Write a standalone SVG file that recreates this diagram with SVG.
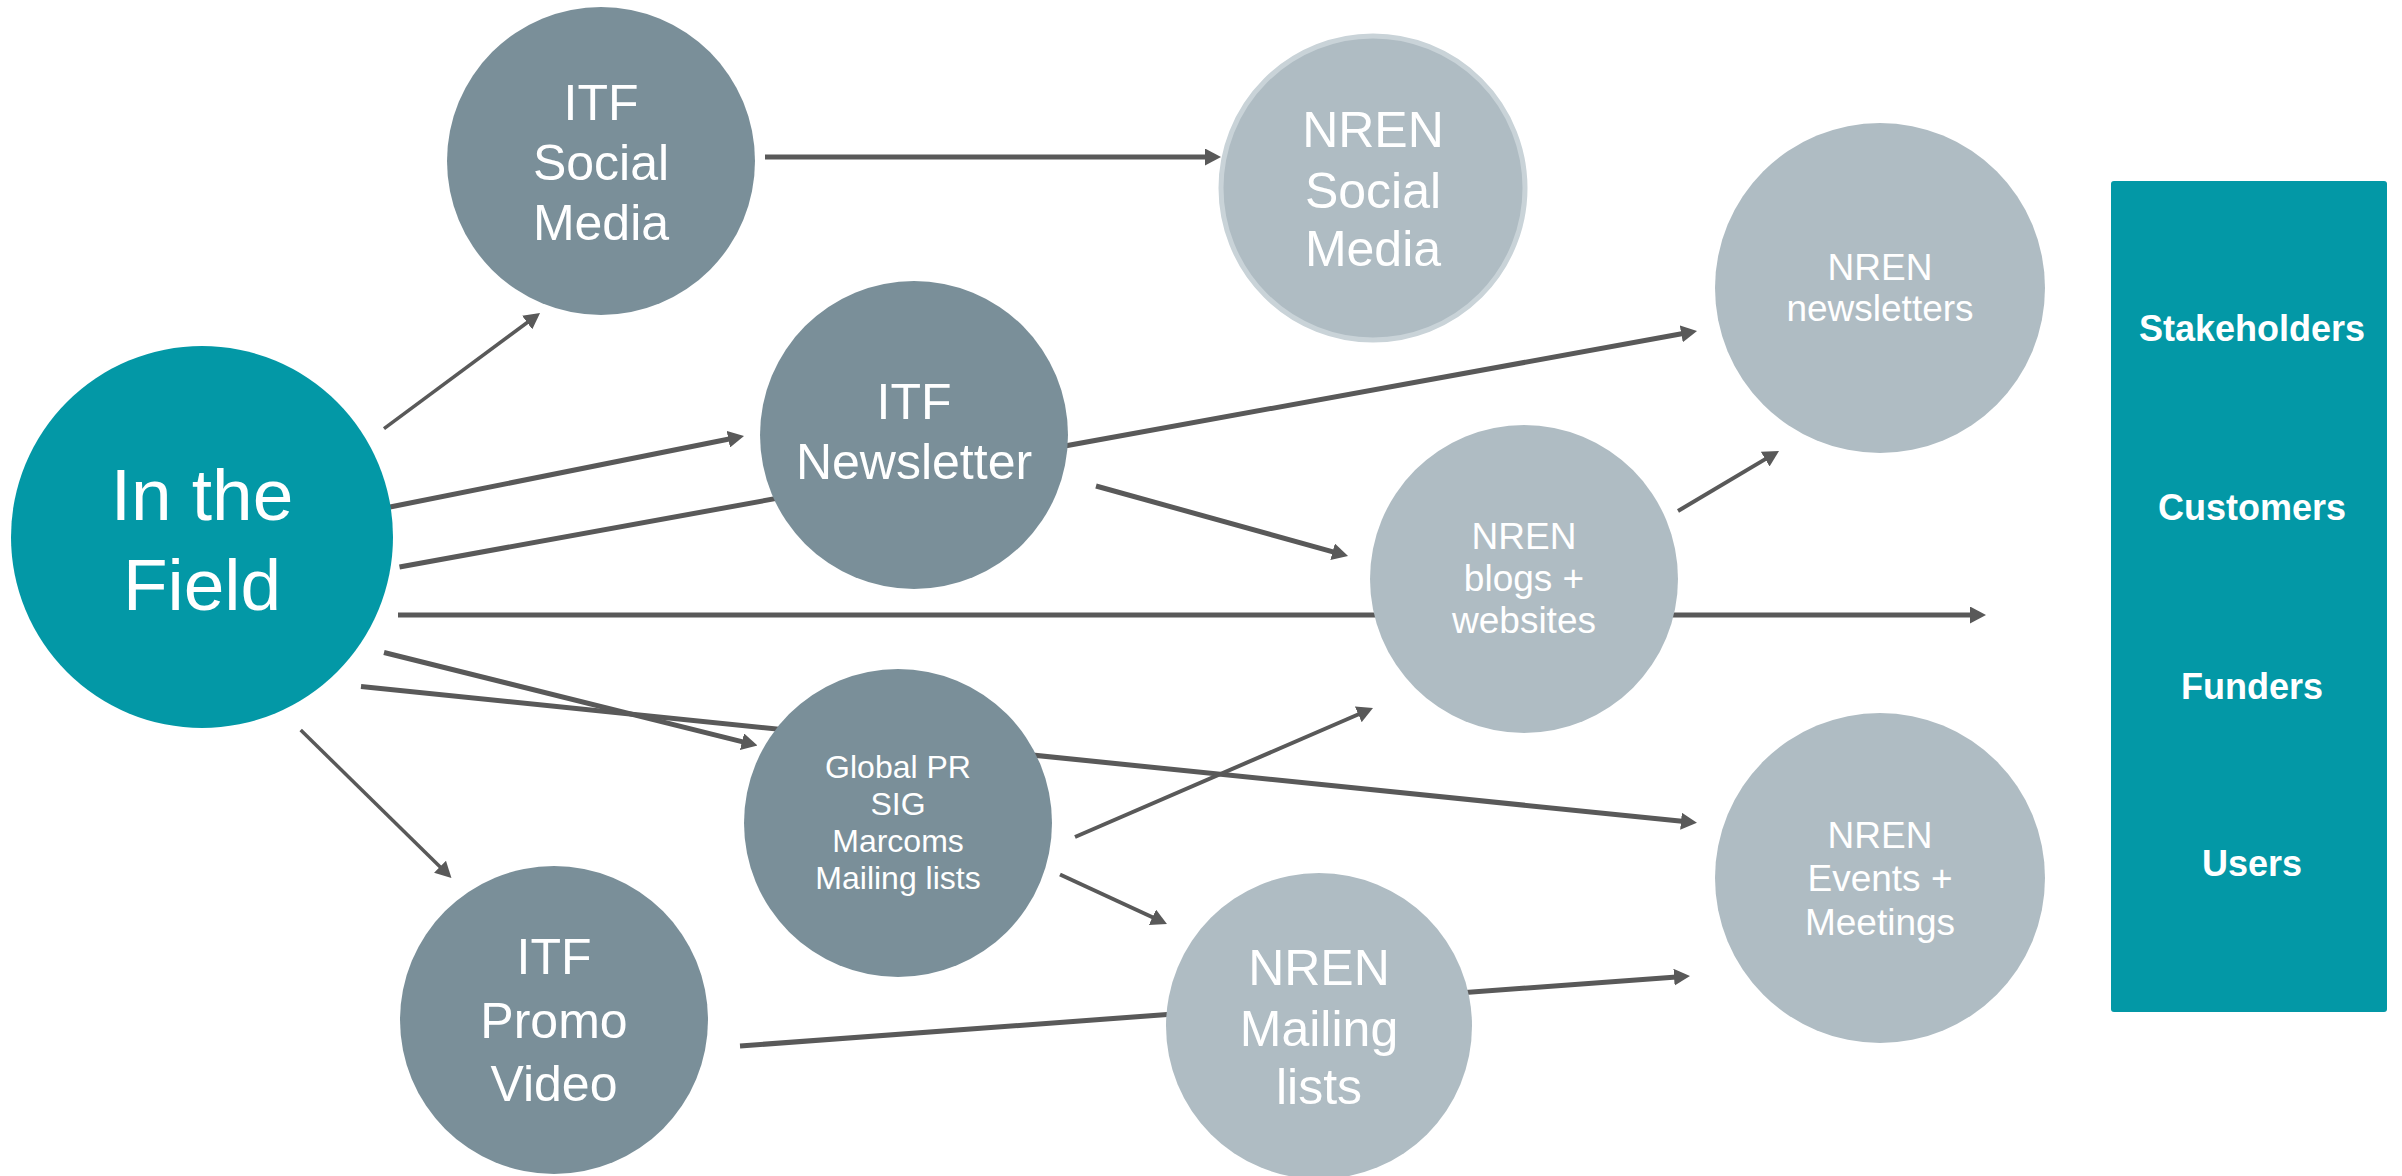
<svg xmlns="http://www.w3.org/2000/svg" width="2402" height="1176" viewBox="0 0 2402 1176">
<style>
.itf{fill:#7a8f99}
.nren{fill:#afbcc3}
.teal{fill:#0398a6}
text{font-family:"Liberation Sans",Arial,sans-serif;fill:#ffffff;text-anchor:middle}
.big{font-size:73px}
.l{font-size:50px}
.m{font-size:37px}
.s{font-size:32px}
.b{font-size:36px;font-weight:bold}
.c{stroke:#595959;stroke-width:5;fill:none}
.t{stroke-width:3.5}
.n{stroke-width:4}
</style>
<defs>
<marker id="ah" markerUnits="userSpaceOnUse" markerWidth="16" markerHeight="17" refX="6" refY="8.5" orient="auto" viewBox="0 0 16 17">
<path d="M0,0 L16,8.5 L0,17 z" fill="#595959"/>
</marker>
</defs>
<g id="connectors">
<line class="c t" x1="384" y1="428.6" x2="532" y2="319" marker-end="url(#ah)"/>
<line class="c" x1="390" y1="507" x2="734.2" y2="438" marker-end="url(#ah)"/>
<line class="c" x1="399.5" y1="567" x2="1687.2" y2="332.8" marker-end="url(#ah)"/>
<line class="c" x1="1096" y1="486" x2="1338.4" y2="553.3" marker-end="url(#ah)"/>
<line class="c" x1="765" y1="157" x2="1211" y2="157" marker-end="url(#ah)"/>
<line class="c n" x1="1678" y1="511" x2="1770.4" y2="456.1" marker-end="url(#ah)"/>
<line class="c" x1="398" y1="615" x2="1976" y2="615" marker-end="url(#ah)"/>
<line class="c" x1="384" y1="652.5" x2="747.8" y2="743.1" marker-end="url(#ah)"/>
<line class="c" x1="361" y1="686.6" x2="1687" y2="821.8" marker-end="url(#ah)"/>
<line class="c t" x1="300.7" y1="730" x2="444.3" y2="871" marker-end="url(#ah)"/>
<line class="c n" x1="1075" y1="837" x2="1363.8" y2="712" marker-end="url(#ah)"/>
<line class="c n" x1="1060" y1="874.5" x2="1157.9" y2="919.8" marker-end="url(#ah)"/>
<line class="c" x1="740" y1="1046" x2="1680" y2="976.7" marker-end="url(#ah)"/>
</g>
<g id="in-the-field">
<circle class="teal" cx="202" cy="537" r="191"/>
<text class="big" x="202" y="520">In the</text>
<text class="big" x="202" y="610">Field</text>
</g>
<g id="itf-social-media">
<circle class="itf" cx="601" cy="161" r="154"/>
<text class="l" x="601" y="120">ITF</text>
<text class="l" x="601" y="180">Social</text>
<text class="l" x="601" y="240">Media</text>
</g>
<g id="itf-newsletter">
<circle class="itf" cx="914" cy="435" r="154"/>
<text class="l" x="914" y="419">ITF</text>
<text class="l" x="914" y="479">Newsletter</text>
</g>
<g id="nren-social-media">
<circle class="nren" cx="1373" cy="188" r="152" stroke="#c9d3d8" stroke-width="5"/>
<text class="l" x="1373" y="147">NREN</text>
<text class="l" x="1373" y="208">Social</text>
<text class="l" x="1373" y="266">Media</text>
</g>
<g id="nren-newsletters">
<circle class="nren" cx="1880" cy="288" r="165"/>
<text class="m" x="1880" y="280">NREN</text>
<text class="m" x="1880" y="321">newsletters</text>
</g>
<g id="nren-blogs-websites">
<circle class="nren" cx="1524" cy="579" r="154"/>
<text class="m" x="1524" y="549">NREN</text>
<text class="m" x="1524" y="591">blogs +</text>
<text class="m" x="1524" y="633">websites</text>
</g>
<g id="global-pr-sig">
<circle class="itf" cx="898" cy="823" r="154"/>
<text class="s" x="898" y="778">Global PR</text>
<text class="s" x="898" y="815">SIG</text>
<text class="s" x="898" y="852">Marcoms</text>
<text class="s" x="898" y="889">Mailing lists</text>
</g>
<g id="itf-promo-video">
<circle class="itf" cx="554" cy="1020" r="154"/>
<text class="l" x="554" y="974">ITF</text>
<text class="l" x="554" y="1038">Promo</text>
<text class="l" x="554" y="1101">Video</text>
</g>
<g id="nren-mailing-lists">
<circle class="nren" cx="1319" cy="1026" r="153"/>
<text class="l" x="1319" y="985">NREN</text>
<text class="l" x="1319" y="1046">Mailing</text>
<text class="l" x="1319" y="1104">lists</text>
</g>
<g id="nren-events-meetings">
<circle class="nren" cx="1880" cy="878" r="165"/>
<text class="m" x="1880" y="848">NREN</text>
<text class="m" x="1880" y="891">Events +</text>
<text class="m" x="1880" y="935">Meetings</text>
</g>
<g id="audiences">
<rect class="teal" x="2111" y="181" width="276" height="831" rx="3"/>
<text class="b" x="2252" y="341">Stakeholders</text>
<text class="b" x="2252" y="520">Customers</text>
<text class="b" x="2252" y="699">Funders</text>
<text class="b" x="2252" y="876">Users</text>
</g>
</svg>
